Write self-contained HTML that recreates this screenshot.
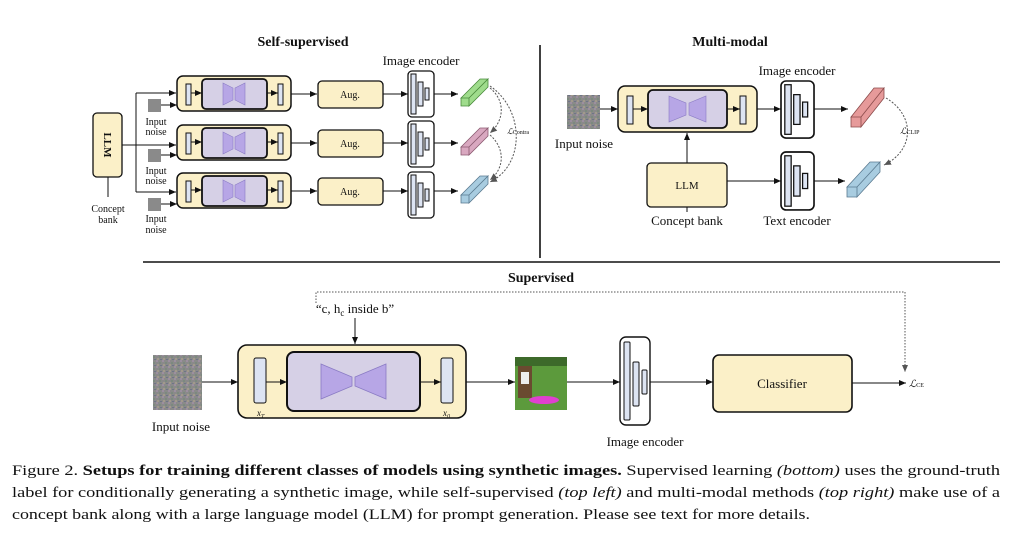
<!DOCTYPE html>
<html><head><meta charset="utf-8"><style>
html,body{margin:0;padding:0;background:#fff}
svg{display:block}
text{font-family:"Liberation Serif",serif;fill:#111}
</style></head><body>
<svg width="1012" height="548" viewBox="0 0 1012 548" xmlns="http://www.w3.org/2000/svg">
<defs>
<marker id="ah" markerWidth="8" markerHeight="8" refX="7" refY="4" orient="auto" markerUnits="userSpaceOnUse"><path d="M0,1 L7,4 L0,7 z" fill="#111"/></marker>
<marker id="ahg" markerWidth="8" markerHeight="8" refX="7" refY="4" orient="auto" markerUnits="userSpaceOnUse"><path d="M0,1 L7,4 L0,7 z" fill="#555"/></marker>
<pattern id="noise" width="6" height="6" patternUnits="userSpaceOnUse">
<rect width="6" height="6" fill="#8a8a8a"/><rect x="0" y="0" width="2" height="2" fill="#9c8fa0"/><rect x="3" y="2" width="2" height="2" fill="#7c8a7e"/><rect x="1" y="4" width="2" height="2" fill="#a29a8c"/><rect x="4" y="5" width="2" height="1" fill="#6f7488"/>
</pattern>
<g id="gen">
<rect x="0" y="0" width="114" height="35" rx="6" fill="#fbf0c8" stroke="#111" stroke-width="1.5"/>
<rect x="25" y="3" width="65" height="30" rx="4" fill="#d6d0e6" stroke="#111" stroke-width="1.8"/>
<path d="M46,7 L56,12 L56,24 L46,29z M58,12 L68,7 L68,29 L58,24z" fill="#b7a6e6" stroke="#8a7bc4" stroke-width="0.6"/>
<rect x="9" y="8" width="5" height="21" fill="#dde4f2" stroke="#111"/>
<rect x="101" y="8" width="5" height="21" fill="#dde4f2" stroke="#111"/>
<line x1="14" y1="17" x2="25" y2="17" stroke="#111" marker-end="url(#ah)"/>
<line x1="90" y1="17" x2="101" y2="17" stroke="#111" marker-end="url(#ah)"/>
</g>
<g id="enc">
<rect x="0" y="0" width="26" height="46" rx="4" fill="#fff" stroke="#111" stroke-width="1.3"/>
<rect x="3" y="3" width="5" height="40" fill="#dde4f2" stroke="#111"/>
<rect x="10" y="11" width="5" height="24" fill="#dde4f2" stroke="#111"/>
<rect x="17" y="17" width="4" height="12" fill="#dde4f2" stroke="#111"/>
</g>
</defs>

<!-- Self-supervised -->
<text x="303" y="46" font-size="14" font-weight="bold" text-anchor="middle">Self-supervised</text>
<text x="421" y="65" font-size="13" text-anchor="middle">Image encoder</text>
<rect x="93" y="113" width="29" height="64" rx="4" fill="#fbf0c8" stroke="#111" stroke-width="1.3"/>
<text x="108" y="145" font-size="11" font-weight="bold" text-anchor="middle" transform="rotate(90 108 145)" dy="4">LLM</text>
<line x1="108" y1="177" x2="108" y2="197" stroke="#111"/>
<text x="108" y="212" font-size="10" text-anchor="middle">Concept</text>
<text x="108" y="223" font-size="10" text-anchor="middle">bank</text>
<line x1="122" y1="145" x2="176" y2="145" stroke="#111" marker-end="url(#ah)"/>
<line x1="136" y1="93" x2="136" y2="192" stroke="#111"/>
<line x1="136" y1="93" x2="176" y2="93" stroke="#111" marker-end="url(#ah)"/>
<line x1="136" y1="192" x2="176" y2="192" stroke="#111" marker-end="url(#ah)"/>
<g font-size="10" text-anchor="middle">
<rect x="148" y="99" width="13" height="13" fill="#8a8a8a"/><line x1="161" y1="105" x2="177" y2="105" stroke="#111" marker-end="url(#ah)"/>
<text x="156" y="125">Input</text><text x="156" y="135">noise</text>
<rect x="148" y="149" width="13" height="13" fill="#8a8a8a"/><line x1="161" y1="155" x2="177" y2="155" stroke="#111" marker-end="url(#ah)"/>
<text x="156" y="174">Input</text><text x="156" y="184">noise</text>
<rect x="148" y="198" width="13" height="13" fill="#8a8a8a"/><line x1="161" y1="204" x2="177" y2="204" stroke="#111" marker-end="url(#ah)"/>
<text x="156" y="222">Input</text><text x="156" y="233">noise</text>
</g>
<use href="#gen" x="177" y="76"/>
<use href="#gen" x="177" y="125"/>
<use href="#gen" x="177" y="173"/>
<g>
<rect x="318" y="81" width="65" height="27" rx="4" fill="#fbf0c8" stroke="#111" stroke-width="1.3"/><text x="350" y="98" font-size="10" text-anchor="middle">Aug.</text>
<rect x="318" y="130" width="65" height="27" rx="4" fill="#fbf0c8" stroke="#111" stroke-width="1.3"/><text x="350" y="147" font-size="10" text-anchor="middle">Aug.</text>
<rect x="318" y="178" width="65" height="27" rx="4" fill="#fbf0c8" stroke="#111" stroke-width="1.3"/><text x="350" y="195" font-size="10" text-anchor="middle">Aug.</text>
</g>
<g stroke="#111">
<line x1="291" y1="94" x2="317" y2="94" marker-end="url(#ah)"/>
<line x1="291" y1="143" x2="317" y2="143" marker-end="url(#ah)"/>
<line x1="291" y1="191" x2="317" y2="191" marker-end="url(#ah)"/>
<line x1="383" y1="94" x2="408" y2="94" marker-end="url(#ah)"/>
<line x1="383" y1="143" x2="408" y2="143" marker-end="url(#ah)"/>
<line x1="383" y1="191" x2="408" y2="191" marker-end="url(#ah)"/>
<line x1="434" y1="94" x2="458" y2="94" marker-end="url(#ah)"/>
<line x1="434" y1="143" x2="458" y2="143" marker-end="url(#ah)"/>
<line x1="434" y1="191" x2="458" y2="191" marker-end="url(#ah)"/>
</g>
<use href="#enc" x="408" y="71"/>
<use href="#enc" x="408" y="121"/>
<use href="#enc" x="408" y="172"/>
<!-- embeddings -->
<g stroke-width="0.8">
<path d="M461,98 L480,79 L488,79 L469,98z M461,98 L469,98 L469,106 L461,106z M469,98 L488,79 L488,87 L469,106z" fill="#9fdc8c" stroke="#4a8a3c"/>
<path d="M461,147 L480,128 L488,128 L469,147z M461,147 L469,147 L469,155 L461,155z M469,147 L488,128 L488,136 L469,155z" fill="#d9a8c0" stroke="#8a5a70"/>
<path d="M461,195 L480,176 L488,176 L469,195z M461,195 L469,195 L469,203 L461,203z M469,195 L488,176 L488,184 L469,203z" fill="#a8cce0" stroke="#5a7a90"/>
</g>
<g fill="none" stroke="#555" stroke-dasharray="2,1.5">
<path d="M490,88 C505,100 505,120 490,133" marker-end="url(#ahg)"/>
<path d="M490,135 C505,148 505,168 490,180" marker-end="url(#ahg)"/>
<path d="M490,86 C525,110 525,165 490,182" marker-end="url(#ahg)"/>
</g>
<text x="507" y="134" font-size="8" fill="#666" font-style="italic">ℒ<tspan font-size="6" font-style="normal">Contra</tspan></text>

<!-- divider -->
<line x1="540" y1="45" x2="540" y2="258" stroke="#111" stroke-width="1.6"/>
<line x1="143" y1="262" x2="1000" y2="262" stroke="#111" stroke-width="1.6"/>

<!-- Multi-modal -->
<text x="730" y="46" font-size="14" font-weight="bold" text-anchor="middle">Multi-modal</text>
<text x="797" y="75" font-size="13" text-anchor="middle">Image encoder</text>
<rect x="567" y="95" width="33" height="34" fill="url(#noise)"/>
<text x="584" y="148" font-size="13" text-anchor="middle">Input noise</text>
<line x1="600" y1="109" x2="618" y2="109" stroke="#111" marker-end="url(#ah)"/>
<g>
<rect x="618" y="86" width="139" height="46" rx="7" fill="#fbf0c8" stroke="#111" stroke-width="1.5"/>
<rect x="648" y="90" width="79" height="38" rx="5" fill="#d6d0e6" stroke="#111" stroke-width="1.8"/>
<path d="M669,96 L686,103 L686,115 L669,122z M689,103 L706,96 L706,122 L689,115z" fill="#b7a6e6" stroke="#8a7bc4" stroke-width="0.6"/>
<rect x="627" y="96" width="6" height="28" fill="#dde4f2" stroke="#111"/>
<rect x="740" y="96" width="6" height="28" fill="#dde4f2" stroke="#111"/>
<line x1="633" y1="109" x2="648" y2="109" stroke="#111" marker-end="url(#ah)"/>
<line x1="727" y1="109" x2="740" y2="109" stroke="#111" marker-end="url(#ah)"/>
</g>
<line x1="757" y1="109" x2="781" y2="109" stroke="#111" marker-end="url(#ah)"/>
<g transform="translate(781,81) scale(1.27,1.24)"><use href="#enc"/></g>
<g transform="translate(781,152) scale(1.27,1.26)"><use href="#enc"/></g>
<line x1="814" y1="109" x2="848" y2="109" stroke="#111" marker-end="url(#ah)"/>
<rect x="647" y="163" width="80" height="44" rx="4" fill="#fbf0c8" stroke="#111" stroke-width="1.3"/>
<text x="687" y="189" font-size="11" text-anchor="middle">LLM</text>
<line x1="687" y1="163" x2="687" y2="133" stroke="#111" marker-end="url(#ah)"/>
<line x1="687" y1="207" x2="687" y2="212" stroke="#111"/>
<line x1="727" y1="181" x2="781" y2="181" stroke="#111" marker-end="url(#ah)"/>
<line x1="814" y1="181" x2="845" y2="181" stroke="#111" marker-end="url(#ah)"/>
<text x="687" y="225" font-size="13" text-anchor="middle">Concept bank</text>
<text x="797" y="225" font-size="13" text-anchor="middle">Text encoder</text>
<path d="M851,117 L874,88 L884,88 L861,117z M851,117 L861,117 L861,127 L851,127z M861,117 L884,88 L884,98 L861,127z" fill="#e69a9a" stroke="#8a4a4a" stroke-width="0.8"/>
<path d="M847,187 L870,162 L880,162 L857,187z M847,187 L857,187 L857,197 L847,197z M857,187 L880,162 L880,172 L857,197z" fill="#a8cce0" stroke="#5a7a90" stroke-width="0.8"/>
<path d="M886,98 C915,115 915,150 884,165" fill="none" stroke="#555" stroke-dasharray="2,1.5" marker-end="url(#ahg)"/>
<text x="900" y="134" font-size="9" fill="#666" font-style="italic">ℒ<tspan font-size="6" font-style="normal">CLIP</tspan></text>

<!-- Supervised -->
<text x="541" y="282" font-size="14" font-weight="bold" text-anchor="middle">Supervised</text>
<path d="M316,303 L316,292 L905,292 L905,372" fill="none" stroke="#555" stroke-dasharray="1.5,1.5" marker-end="url(#ahg)"/>
<text x="355" y="313" font-size="13" text-anchor="middle">“c, h<tspan font-size="9" dy="3">c</tspan><tspan dy="-3"> inside b”</tspan></text>
<line x1="355" y1="318" x2="355" y2="344" stroke="#111" marker-end="url(#ah)"/>
<rect x="153" y="355" width="49" height="55" fill="url(#noise)"/>
<text x="181" y="431" font-size="13" text-anchor="middle">Input noise</text>
<line x1="202" y1="382" x2="238" y2="382" stroke="#111" marker-end="url(#ah)"/>
<rect x="238" y="345" width="228" height="73" rx="9" fill="#fbf0c8" stroke="#111" stroke-width="1.6"/>
<rect x="287" y="352" width="133" height="59" rx="7" fill="#d6d0e6" stroke="#111" stroke-width="2"/>
<path d="M321,364 L352,377 L352,386 L321,399z M355,377 L386,364 L386,399 L355,386z" fill="#b7a6e6" stroke="#8a7bc4" stroke-width="0.8"/>
<rect x="254" y="358" width="12" height="45" rx="2" fill="#dde4f2" stroke="#111"/>
<rect x="441" y="358" width="12" height="45" rx="2" fill="#dde4f2" stroke="#111"/>
<line x1="266" y1="382" x2="287" y2="382" stroke="#111" marker-end="url(#ah)"/>
<line x1="420" y1="382" x2="441" y2="382" stroke="#111" marker-end="url(#ah)"/>
<text x="257" y="416" font-size="9" font-style="italic" fill="#555">x<tspan font-size="6" dy="2">T</tspan></text>
<text x="443" y="416" font-size="9" font-style="italic" fill="#555">x<tspan font-size="6" dy="2">0</tspan></text>
<line x1="466" y1="382" x2="515" y2="382" stroke="#111" marker-end="url(#ah)"/>
<g>
<rect x="515" y="357" width="52" height="53" fill="#5c9a3c"/>
<rect x="515" y="357" width="52" height="9" fill="#3d6a2a"/>
<rect x="518" y="366" width="14" height="32" fill="#6a4a30"/>
<rect x="521" y="372" width="8" height="12" fill="#eee"/>
<ellipse cx="544" cy="400" rx="15" ry="4" fill="#e040d0"/>
</g>
<line x1="567" y1="382" x2="620" y2="382" stroke="#111" marker-end="url(#ah)"/>
<rect x="620" y="337" width="30" height="88" rx="6" fill="#fff" stroke="#111" stroke-width="1.4"/>
<rect x="624" y="342" width="6" height="78" rx="1" fill="#dde4f2" stroke="#111"/>
<rect x="633" y="362" width="6" height="44" rx="1" fill="#dde4f2" stroke="#111"/>
<rect x="642" y="370" width="5" height="24" rx="1" fill="#dde4f2" stroke="#111"/>
<line x1="650" y1="382" x2="713" y2="382" stroke="#111" marker-end="url(#ah)"/>
<text x="645" y="446" font-size="13" text-anchor="middle">Image encoder</text>
<rect x="713" y="355" width="139" height="57" rx="6" fill="#fbf0c8" stroke="#111" stroke-width="1.6"/>
<text x="782" y="388" font-size="13" text-anchor="middle">Classifier</text>
<line x1="852" y1="383" x2="906" y2="383" stroke="#111" marker-end="url(#ah)"/>
<text x="909" y="387" font-size="10" fill="#666" font-style="italic">ℒ<tspan font-size="6" font-style="normal">CE</tspan></text>

<!-- Caption -->
<g font-size="15">
<text x="12" y="475" textLength="988" lengthAdjust="spacingAndGlyphs">Figure 2. <tspan font-weight="bold">Setups for training different classes of models using synthetic images.</tspan> Supervised learning <tspan font-style="italic">(bottom)</tspan> uses the ground-truth</text>
<text x="12" y="497" textLength="988" lengthAdjust="spacingAndGlyphs">label for conditionally generating a synthetic image, while self-supervised <tspan font-style="italic">(top left)</tspan> and multi-modal methods <tspan font-style="italic">(top right)</tspan> make use of a</text>
<text x="12" y="519" textLength="798" lengthAdjust="spacingAndGlyphs">concept bank along with a large language model (LLM) for prompt generation. Please see text for more details.</text>
</g>
</svg>
</body></html>
